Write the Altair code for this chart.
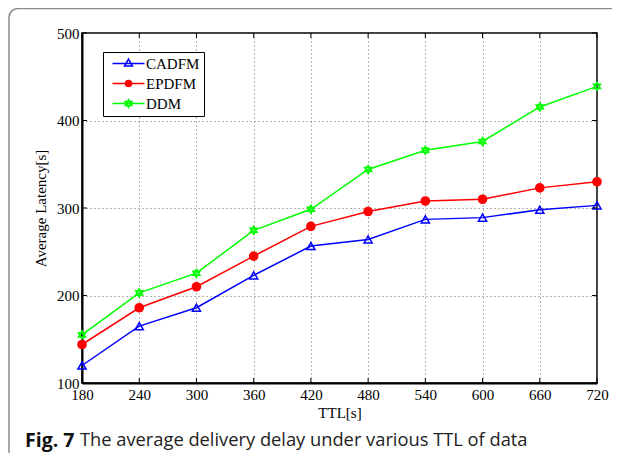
import altair as alt
import pandas as pd

# ---- data ----
ttl = [180, 240, 300, 360, 420, 480, 540, 600, 660, 720]
cadfm = [120, 165, 186, 223, 256.5, 264, 287, 289, 298, 303]
epdfm = [144, 186, 210, 245, 279, 296, 308, 310, 323, 330]
ddm = [155, 203, 225.5, 274.5, 298.5, 344, 366, 376, 415.5, 439]
series = ["CADFM", "EPDFM", "DDM"]
colors = ["#0000ff", "#ff0000", "#00ff00"]
fills = ["transparent", "#ff0000", "#00ff00"]
x_ticks = [180, 240, 300, 360, 420, 480, 540, 600, 660, 720]
y_ticks = [100, 200, 300, 400, 500]
caption_bold = "Fig. 7"
caption_rest = "The average delivery delay under various TTL of data"

rows = []
for name, vals in zip(series, [cadfm, epdfm, ddm]):
    for t, v in zip(ttl, vals):
        rows.append({"TTL": t, "Latency": v, "Series": name})
df = pd.DataFrame(rows)

W, H = 515, 350
SERIF = "Liberation Serif"

xs = alt.Scale(domain=[180, 720], nice=False, zero=False)
ys = alt.Scale(domain=[100, 500], nice=False, zero=False)
cscale = alt.Scale(domain=series, range=colors)
fscale = alt.Scale(domain=series, range=fills)

hexagram = "M0,-1L0.866,0.5L-0.866,0.5ZM0,1L0.866,-0.5L-0.866,-0.5Z"
plot_shapes = ["triangle-up", "circle", hexagram]
legend_shapes = [
    "M-0.5,0H7.5M3.5,-1.1L4.5,0.65L2.5,0.65Z",
    "M-0.5,0H7.5M4.25,0A0.75,0.75,0,1,1,2.75,0A0.75,0.75,0,1,1,4.25,0Z",
    "M-0.5,0H7.5M3.5,-1L4.366,0.5L2.634,0.5ZM3.5,1L4.366,-0.5L2.634,-0.5Z",
]

x_axis = alt.Axis(title="TTL[s]", values=x_ticks, grid=True, ticks=False,
                  labelPadding=4, titlePadding=3, labelFlush=False)
y_axis = alt.Axis(title="Average Latency[s]", values=y_ticks, grid=True, ticks=False,
                  labelPadding=3, titlePadding=8)

base = alt.Chart(df)

lines = base.mark_line(strokeWidth=1.5).encode(
    x=alt.X("TTL:Q", scale=xs, axis=x_axis),
    y=alt.Y("Latency:Q", scale=ys, axis=y_axis),
    color=alt.Color("Series:N", scale=cscale, legend=None),
)

points = base.mark_point(filled=False, size=66, strokeWidth=1.5, opacity=1).encode(
    x=alt.X("TTL:Q", scale=xs, axis=x_axis),
    y=alt.Y("Latency:Q", scale=ys, axis=y_axis),
    color=alt.Color("Series:N", scale=cscale, legend=None),
    fill=alt.Fill("Series:N", scale=fscale, legend=None),
    shape=alt.Shape("Series:N", scale=alt.Scale(domain=series, range=plot_shapes), legend=None),
)

leg = alt.Legend(orient="none", legendX=21, legendY=19, title=None,
                 strokeColor="black", fillColor="white", padding=4,
                 labelFont=SERIF, labelFontSize=15, labelColor="black",
                 labelOffset=24, rowPadding=4, symbolSize=64, symbolStrokeWidth=1.5)

legend_layer = base.mark_point(filled=False, size=64, strokeWidth=1.5, opacity=1, clip=True).encode(
    x=alt.value(-200),
    y=alt.value(-200),
    color=alt.Color("Series:N", scale=cscale, legend=leg),
    fill=alt.Fill("Series:N", scale=fscale, legend=leg),
    shape=alt.Shape("Series:N", scale=alt.Scale(domain=series, range=legend_shapes), legend=leg),
)

ydf = pd.DataFrame({"Latency": y_ticks})
xdf = pd.DataFrame({"TTL": x_ticks})
tick_l = alt.Chart(ydf).mark_rule(color="black", strokeWidth=1).encode(
    y=alt.Y("Latency:Q", scale=ys, axis=y_axis), x=alt.value(0), x2=alt.value(5))
tick_r = alt.Chart(ydf).mark_rule(color="black", strokeWidth=1).encode(
    y=alt.Y("Latency:Q", scale=ys, axis=y_axis), x=alt.value(W - 5), x2=alt.value(W))
tick_b = alt.Chart(xdf).mark_rule(color="black", strokeWidth=1).encode(
    x=alt.X("TTL:Q", scale=xs, axis=x_axis), y=alt.value(H - 5), y2=alt.value(H))
tick_t = alt.Chart(xdf).mark_rule(color="black", strokeWidth=1).encode(
    x=alt.X("TTL:Q", scale=xs, axis=x_axis), y=alt.value(0), y2=alt.value(5))

one = pd.DataFrame({"a": [0]})
frame = alt.Chart(one).mark_rect(fill="transparent", stroke="#8a8a8a", strokeWidth=1.5,
                                 cornerRadius=9).encode(
    x=alt.value(-73), y=alt.value(-24.5), x2=alt.value(W + 1000), y2=alt.value(H + 1000))

cap1 = alt.Chart(pd.DataFrame({"t": [caption_bold]})).mark_text(
    align="left", baseline="middle", font="Open Sans", fontWeight="bold",
    fontSize=19.5, color="#111").encode(x=alt.value(-57), y=alt.value(408), text="t:N")
cap2 = alt.Chart(pd.DataFrame({"t": [caption_rest]})).mark_text(
    align="left", baseline="middle", font="Open Sans", fontSize=18.3,
    color="#222").encode(x=alt.value(-2), y=alt.value(408), text="t:N")

chart = alt.layer(
    frame, lines, points, legend_layer, tick_l, tick_r, tick_b, tick_t, cap1, cap2
).resolve_scale(
    color="independent", fill="independent", shape="independent"
).properties(
    width=W, height=H,
    autosize=alt.AutoSizeParams(type="none"),
    padding={"left": 74, "top": 25, "right": 15, "bottom": 70},
).configure_view(
    stroke="black", strokeWidth=1.5
).configure_axis(
    labelFont=SERIF, labelFontSize=15, labelColor="black",
    titleFont=SERIF, titleFontSize=15, titleFontWeight="normal", titleColor="black",
    domainColor="black", domainWidth=2,
    gridColor="#666", gridDash=[1, 3], gridWidth=1, gridOpacity=1,
)

chart.save("out.html", embed_options={"renderer": "svg", "actions": False})
